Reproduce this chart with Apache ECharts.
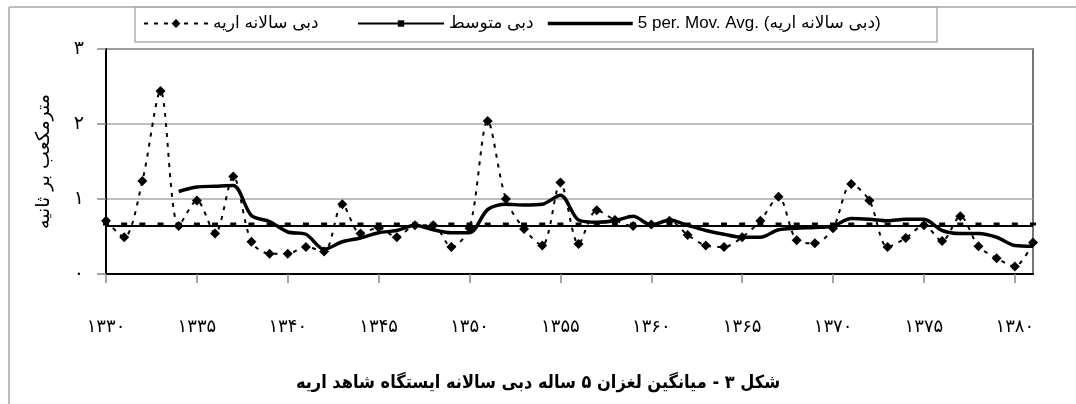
<!DOCTYPE html>
<html>
<head>
<meta charset="utf-8">
<script src="https://cdn.jsdelivr.net/npm/echarts@6/dist/echarts.min.js"></script>
<style>
html,body{margin:0;padding:0;background:#fff;}
#chart{width:1076px;height:404px;}
</style>
</head>
<body>
<div id="chart"></div>
<script>
const years = [1330,1331,1332,1333,1334,1335,1336,1337,1338,1339,1340,1341,1342,1343,1344,1345,1346,1347,1348,1349,1350,1351,1352,1353,1354,1355,1356,1357,1358,1359,1360,1361,1362,1363,1364,1365,1366,1367,1368,1369,1370,1371,1372,1373,1374,1375,1376,1377,1378,1379,1380,1381];
const annualFlow = [0.71,0.49,1.24,2.44,0.64,0.98,0.54,1.30,0.43,0.27,0.27,0.36,0.30,0.93,0.54,0.62,0.49,0.65,0.65,0.36,0.61,2.04,1.00,0.60,0.38,1.22,0.40,0.85,0.72,0.64,0.66,0.71,0.52,0.38,0.36,0.49,0.71,1.03,0.45,0.41,0.61,1.20,0.98,0.36,0.48,0.65,0.44,0.77,0.37,0.21,0.10,0.42];
const meanFlow = [0.64,0.64,0.64,0.64,0.64,0.64,0.64,0.64,0.64,0.64,0.64,0.64,0.64,0.64,0.64,0.64,0.64,0.64,0.64,0.64,0.64,0.64,0.64,0.64,0.64,0.64,0.64,0.64,0.64,0.64,0.64,0.64,0.64,0.64,0.64,0.64,0.64,0.64,0.64,0.64,0.64,0.64,0.64,0.64,0.64,0.64,0.64,0.64,0.64,0.64,0.64,0.64];
const movingAvg = ['-','-','-','-',1.10,1.16,1.17,1.18,0.78,0.70,0.56,0.53,0.33,0.43,0.48,0.55,0.58,0.65,0.59,0.55,0.55,0.86,0.93,0.92,0.93,1.05,0.72,0.69,0.71,0.77,0.65,0.72,0.65,0.58,0.53,0.49,0.49,0.59,0.61,0.62,0.64,0.74,0.73,0.71,0.73,0.73,0.58,0.54,0.54,0.49,0.38,0.37];
const xTickLabels = ['۱۳۳۰','۱۳۳۵','۱۳۴۰','۱۳۴۵','۱۳۵۰','۱۳۵۵','۱۳۶۰','۱۳۶۵','۱۳۷۰','۱۳۷۵','۱۳۸۰'];
const yTickLabels = ['۰','۱','۲','۳'];
const seriesNames = ['دبی سالانه اریه', 'دبی متوسط', '5 per. Mov. Avg. (دبی سالانه اریه)'];
const yAxisName = 'مترمکعب بر ثانیه';
const titleText = 'شکل ۳ - میانگین لغزان ۵ ساله دبی سالانه ایستگاه شاهد اریه';

const chart = echarts.init(document.getElementById('chart'), null, {renderer: 'canvas'});
const legendText = {fontSize: 17, color: '#000', fontFamily: 'Liberation Sans, DejaVu Sans, sans-serif'};
const option = {
  animation: false,
  backgroundColor: '#fff',
  textStyle: {fontFamily: 'Liberation Sans, DejaVu Sans, sans-serif'},
  title: {
    text: titleText, left: 'center', top: 369,
    textStyle: {fontSize: 18, fontWeight: 'bold', color: '#000', fontFamily: 'DejaVu Sans Condensed, DejaVu Sans, sans-serif'}
  },
  graphic: [
    {type: 'line', z: 0, shape: {x1: 9, y1: 7, x2: 9, y2: 404}, style: {stroke: '#bdbdbd', lineWidth: 2}},
    {type: 'line', z: 0, shape: {x1: 9, y1: 7, x2: 1076, y2: 7}, style: {stroke: '#bdbdbd', lineWidth: 2}},
    {type: 'rect', z: 0, shape: {x: 135, y: 7, width: 802, height: 35}, style: {fill: 'none', stroke: '#b0b0b0', lineWidth: 1.5}}
  ],
  legend: [
    {data: [seriesNames[0]], left: 143, top: 15, itemWidth: 64, itemHeight: 11, padding: 0, textStyle: legendText},
    {data: [seriesNames[1]], left: 357, top: 15, itemWidth: 86, itemHeight: 8, padding: 0, textStyle: legendText},
    {data: [seriesNames[2]], left: 546, top: 15, itemWidth: 85, itemHeight: 11, padding: 0, textStyle: legendText,
      itemStyle: {opacity: 0}, lineStyle: {width: 3.5, color: '#000', opacity: 1}}
  ],
  grid: {left: 106, right: 43, top: 49, bottom: 130, show: true, borderColor: '#777', borderWidth: 2},
  xAxis: {
    type: 'category', data: years, boundaryGap: false,
    axisLine: {lineStyle: {color: '#000', width: 2}},
    axisTick: {interval: 4, length: 9, lineStyle: {color: '#888', width: 1.5}},
    axisLabel: {interval: 4, margin: 44, fontSize: 18, color: '#000', fontFamily: 'DejaVu Sans, sans-serif',
      formatter: (v, i) => xTickLabels[Math.round(i / 5)]},
    splitLine: {show: false}
  },
  yAxis: {
    type: 'value', min: 0, max: 3, interval: 1,
    name: yAxisName, nameLocation: 'middle', nameRotate: 90, nameGap: 52,
    nameTextStyle: {fontSize: 19, color: '#000', fontFamily: 'DejaVu Sans, sans-serif'},
    axisLine: {show: true, lineStyle: {color: '#000', width: 2}},
    axisTick: {show: true, length: 9, lineStyle: {color: '#888', width: 1.5}},
    axisLabel: {margin: 22, fontSize: 19, color: '#000', fontFamily: 'DejaVu Sans, sans-serif',
      formatter: v => yTickLabels[Math.round(v)]},
    splitLine: {show: true, lineStyle: {color: '#aaa', width: 1.5}}
  },
  series: [
    {
      name: seriesNames[1], type: 'line', data: meanFlow,
      symbol: 'rect', symbolSize: [6, 3], symbolOffset: [0, -2], showAllSymbol: true,
      itemStyle: {color: '#000'}, lineStyle: {color: '#000', width: 2}, z: 2
    },
    {
      name: seriesNames[0], type: 'line', data: annualFlow, smooth: 0.3,
      symbol: 'diamond', symbolSize: 10, showAllSymbol: true,
      itemStyle: {color: '#000'}, lineStyle: {color: '#000', width: 2, type: [4, 6]}, z: 3
    },
    {
      name: seriesNames[2], type: 'line', data: movingAvg, smooth: 0.3,
      symbol: 'none', itemStyle: {color: '#000'}, lineStyle: {color: '#000', width: 3.5}, z: 4
    }
  ]
};
chart.setOption(option);
</script>
</body>
</html>
